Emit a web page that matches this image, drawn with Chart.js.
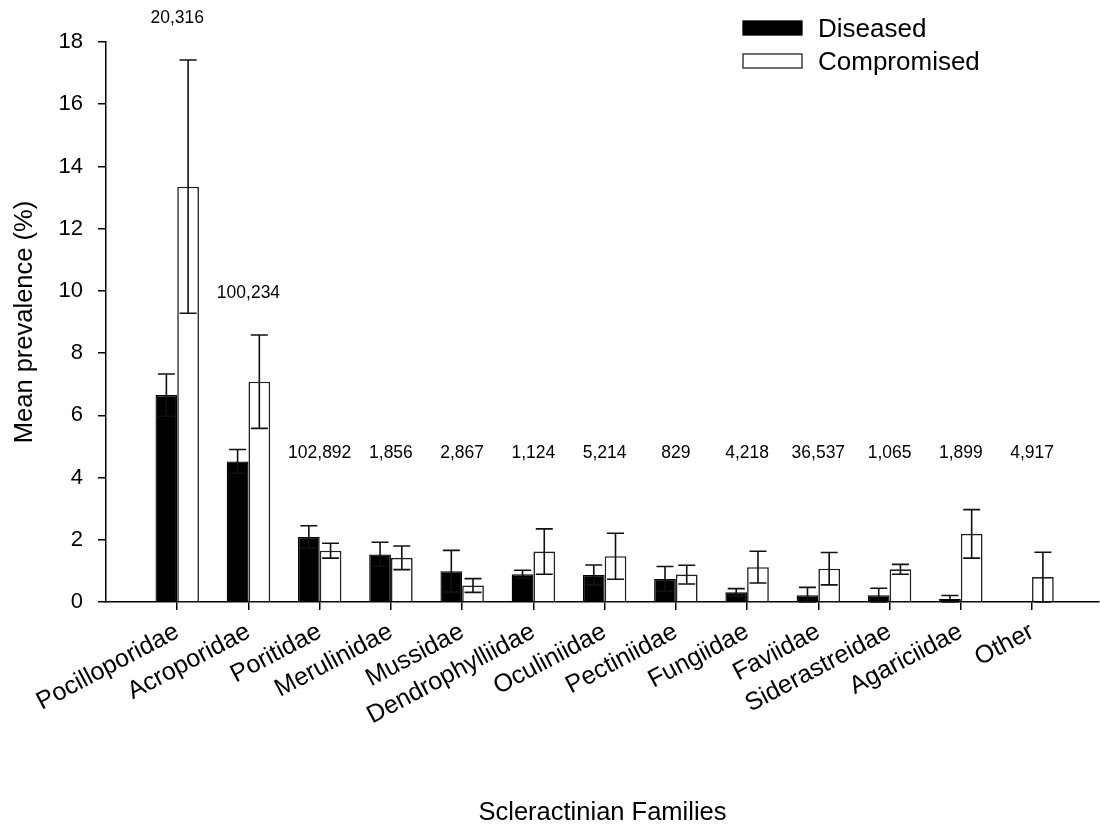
<!DOCTYPE html>
<html>
<head>
<meta charset="utf-8">
<script src="https://cdn.jsdelivr.net/npm/chart.js@4.4.1/dist/chart.umd.min.js"></script>
<style>
  html, body { margin: 0; padding: 0; background: #ffffff; }
  #wrap { width: 1100px; height: 828px; position: relative; }
</style>
</head>
<body>
<div id="wrap"><canvas id="chart" width="1100" height="828"></canvas></div>
<script>
// Scleractinian families (x categories)
const families = ['Pocilloporidae', 'Acroporidae', 'Poritidae', 'Merulinidae', 'Mussidae',
  'Dendrophylliidae', 'Oculiniidae', 'Pectiniidae', 'Fungiidae', 'Faviidae',
  'Siderastreidae', 'Agariciidae', 'Other'];

// Mean prevalence (%) and its error, per family
const diseased       = [6.65, 4.52, 2.09, 1.53, 0.99, 0.89, 0.87, 0.74, 0.31, 0.22, 0.22, 0.10, null];
const diseasedErr    = [0.68, 0.38, 0.36, 0.39, 0.67, 0.13, 0.32, 0.40, 0.12, 0.25, 0.22, 0.11, null];
const compromised    = [13.35, 7.08, 1.65, 1.42, 0.53, 1.62, 1.47, 0.88, 1.12, 1.07, 1.05, 2.19, 0.80];
const compromisedErr = [4.07, 1.50, 0.24, 0.38, 0.22, 0.73, 0.74, 0.30, 0.51, 0.52, 0.16, 0.78, 0.80];

// Number of colonies surveyed per family
const colonies = ['20,316', '100,234', '102,892', '1,856', '2,867', '1,124', '5,214',
  '829', '4,218', '36,537', '1,065', '1,899', '4,917'];

// y-axis tick values
const yTicks = [0, 2, 4, 6, 8, 10, 12, 14, 16, 18];

const FONT = "'Liberation Sans', Arial, Helvetica, sans-serif";

const toPoints = (vals) => vals.map((v, i) => ({ x: i + 1, y: v }));

// Error bars: vertical whisker with caps, drawn from each dataset's err array
const errorBars = {
  id: 'errorBars',
  afterDatasetsDraw(chart) {
    const { ctx } = chart;
    const yScale = chart.scales.y;
    chart.data.datasets.forEach((ds, di) => {
      const meta = chart.getDatasetMeta(di);
      meta.data.forEach((bar, i) => {
        const v = ds.data[i].y;
        const e = ds.errors[i];
        if (v === null || e === null) return;
        const x = bar.x;
        const top = yScale.getPixelForValue(v + e);
        const bot = yScale.getPixelForValue(Math.max(v - e, 0));
        const cap = 8.5;
        ctx.save();
        ctx.strokeStyle = '#111111';
        ctx.lineWidth = 1.6;
        ctx.beginPath();
        ctx.moveTo(x, top); ctx.lineTo(x, bot);
        ctx.moveTo(x - cap, top); ctx.lineTo(x + cap, top);
        ctx.moveTo(x - cap, bot); ctx.lineTo(x + cap, bot);
        ctx.stroke();
        ctx.restore();
      });
    });
  }
};

// Colony counts above each family, and the legend in the upper right
const annotations = {
  id: 'annotations',
  afterDraw(chart) {
    const { ctx } = chart;
    const xScale = chart.scales.x;
    const yScale = chart.scales.y;
    ctx.save();
    ctx.fillStyle = '#000000';
    ctx.font = `17.5px ${FONT}`;
    ctx.textAlign = 'center';
    ctx.textBaseline = 'middle';
    const baseY = yScale.getPixelForValue(4.78);
    colonies.forEach((txt, i) => {
      const x = xScale.getPixelForValue(i + 1);
      const hi = Math.max(
        (diseased[i] ?? 0) + (diseasedErr[i] ?? 0),
        (compromised[i] ?? 0) + (compromisedErr[i] ?? 0));
      const y = Math.min(baseY, yScale.getPixelForValue(hi) - 42);
      ctx.fillText(txt, x, y);
    });

    // legend
    const lx = 743, bw = 59, bh = 14, tx = 818;
    const rows = [28, 61];
    ctx.font = `26px ${FONT}`;
    ctx.textAlign = 'left';
    chart.data.datasets.forEach((ds, di) => {
      const cy = rows[di];
      ctx.fillStyle = ds.backgroundColor;
      ctx.fillRect(lx, cy - bh / 2, bw, bh);
      ctx.strokeStyle = ds.borderColor;
      ctx.lineWidth = 1.3;
      ctx.strokeRect(lx, cy - bh / 2, bw, bh);
      ctx.fillStyle = '#000000';
      ctx.fillText(ds.label, tx, cy + 2);
    });
    ctx.restore();
  }
};

new Chart(document.getElementById('chart'), {
  type: 'bar',
  data: {
    datasets: [
      {
        label: 'Diseased',
        data: toPoints(diseased),
        errors: diseasedErr,
        backgroundColor: '#000000',
        borderColor: '#000000',
        borderWidth: 1.3
      },
      {
        label: 'Compromised',
        data: toPoints(compromised),
        errors: compromisedErr,
        backgroundColor: '#ffffff',
        borderColor: '#222222',
        borderWidth: 1.6
      }
    ]
  },
  options: {
    responsive: false,
    animation: false,
    devicePixelRatio: 1,
    categoryPercentage: 0.61,
    barPercentage: 1.0,
    layout: { padding: { top: 42, right: 1, left: 0, bottom: 0 } },
    plugins: {
      legend: { display: false },
      tooltip: { enabled: false }
    },
    scales: {
      x: {
        type: 'linear',
        offset: false,
        min: 0,
        max: 13.94,
        afterBuildTicks(scale) {
          scale.ticks = families.map((_, i) => ({ value: i + 1 }));
        },
        afterFit(scale) { scale.height = 226; },
        ticks: {
          autoSkip: false,
          minRotation: 28,
          maxRotation: 28,
          padding: 7,
          color: '#000000',
          font: { family: FONT, size: 25 },
          callback: (v) => families[v - 1] ?? ''
        },
        grid: {
          offset: false,
          drawOnChartArea: false,
          drawTicks: true,
          tickLength: 8,
          color: '#000000',
          lineWidth: 1.5
        },
        border: { display: true, color: '#000000', width: 1.5 },
        title: {
          display: true,
          text: 'Scleractinian Families',
          color: '#000000',
          font: { family: FONT, size: 25.5 },
          padding: { top: 0, bottom: 0 }
        }
      },
      y: {
        min: 0,
        max: 18,
        afterBuildTicks(scale) {
          scale.ticks = yTicks.map(v => ({ value: v }));
        },
        afterFit(scale) { scale.width = 106; },
        ticks: {
          padding: 15,
          color: '#000000',
          font: { family: FONT, size: 22 }
        },
        grid: {
          drawOnChartArea: false,
          drawTicks: true,
          tickLength: 8,
          color: '#000000',
          lineWidth: 1.5
        },
        border: { display: true, color: '#000000', width: 1.5 },
        title: {
          display: true,
          text: 'Mean prevalence (%)',
          color: '#000000',
          font: { family: FONT, size: 25.5, lineHeight: 1.0 },
          padding: { top: 12, bottom: 0 }
        }
      }
    }
  },
  plugins: [errorBars, annotations]
});
</script>
</body>
</html>
